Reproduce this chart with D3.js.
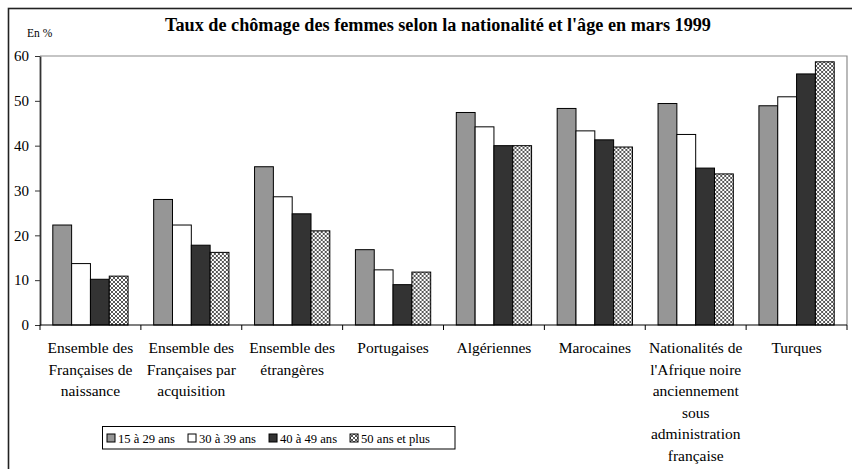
<!DOCTYPE html>
<html>
<head>
<meta charset="utf-8">
<script src="https://cdn.jsdelivr.net/npm/d3@7"></script>
<style>
  body { margin: 0; background: #fff; }
  svg { display: block; }
  svg text { font-family: "Liberation Serif", "Times New Roman", serif; }
</style>
</head>
<body>
<svg id="chart" width="852" height="469"></svg>
<script>
// Unemployment rate of women by nationality and age group, March 1999 (%)
const categories = [
  ["Ensemble des", "Françaises de", "naissance"],
  ["Ensemble des", "Françaises par", "acquisition"],
  ["Ensemble des", "étrangères"],
  ["Portugaises"],
  ["Algériennes"],
  ["Marocaines"],
  ["Nationalités de", "l'Afrique noire", "anciennement", "sous", "administration", "française"],
  ["Turques"]
];
const seriesNames = ["15 à 29 ans", "30 à 39 ans", "40 à 49 ans", "50 ans et plus"];
const age15to29 = [22.3, 28.0, 35.3, 16.8, 47.4, 48.3, 49.4, 48.9];
const age30to39 = [13.7, 22.3, 28.6, 12.3, 44.2, 43.3, 42.5, 50.9];
const age40to49 = [10.2, 17.8, 24.8, 9.0, 40.0, 41.3, 35.0, 56.0];
const age50plus = [10.9, 16.2, 21.0, 11.8, 40.0, 39.7, 33.7, 58.7];
const yTicks = [0, 10, 20, 30, 40, 50, 60];

const seriesValues = [age15to29, age30to39, age40to49, age50plus];
const FONT = "Liberation Serif, Times New Roman, serif";
const svg = d3.select("#chart");

// hatch pattern for the oldest age group
const defs = svg.append("defs");
const pat = defs.append("pattern")
  .attr("id", "hatch").attr("patternUnits", "userSpaceOnUse")
  .attr("width", 4).attr("height", 4);
pat.append("rect").attr("width", 4).attr("height", 4).attr("fill", "#fff");
pat.append("path").attr("d", "M0,0L4,4M4,0L0,4")
  .attr("stroke", "#444").attr("stroke-width", 0.9);

const fills = ["#969696", "#ffffff", "#333333", "url(#hatch)"];

// outer frame
svg.append("rect").attr("x", 8.5).attr("y", 8.5).attr("width", 860).attr("height", 480)
  .attr("fill", "none").attr("stroke", "#222").attr("stroke-width", 1.6);

const plot = { left: 40, right: 847, top: 56, bottom: 325 };

const x0 = d3.scaleBand().domain(d3.range(categories.length))
  .range([plot.left, plot.right]).paddingInner(0).paddingOuter(0);
const x1 = d3.scaleBand().domain(d3.range(seriesNames.length))
  .range([0, x0.bandwidth()]).paddingInner(0).paddingOuter(0.68);
const y = d3.scaleLinear().domain([0, 60]).range([plot.bottom, plot.top]);

// plot area border (top and right)
svg.append("path")
  .attr("d", `M${plot.left},${plot.top}H${plot.right}V${plot.bottom}`)
  .attr("fill", "none").attr("stroke", "#8c8c8c").attr("stroke-width", 1.2);

// bars
const groups = svg.append("g").selectAll("g")
  .data(categories.map((c, i) => i))
  .join("g")
  .attr("transform", i => `translate(${x0(i)},0)`);
groups.selectAll("rect")
  .data(i => seriesValues.map((s, k) => ({ k, v: s[i] })))
  .join("rect")
  .attr("x", d => x1(d.k))
  .attr("y", d => y(d.v))
  .attr("width", x1.bandwidth())
  .attr("height", d => y(0) - y(d.v))
  .attr("fill", d => fills[d.k])
  .attr("stroke", "#000").attr("stroke-width", 1);

// y axis
const yAxis = svg.append("g").attr("transform", `translate(${plot.left},0)`)
  .attr("font-family", FONT)
  .call(d3.axisLeft(y).tickValues(yTicks).tickSize(5).tickPadding(6).tickSizeOuter(0));
yAxis.attr("font-family", FONT);
yAxis.select(".domain").attr("stroke", "#333").attr("stroke-width", 1.8);
yAxis.selectAll(".tick line").attr("stroke", "#333").attr("stroke-width", 1);
yAxis.selectAll(".tick text").attr("font-size", 15).attr("fill", "#000")
  .attr("font-family", FONT);

// x axis line with ticks at category boundaries
const xAxisG = svg.append("g");
xAxisG.append("line").attr("x1", plot.left).attr("x2", plot.right)
  .attr("y1", plot.bottom).attr("y2", plot.bottom)
  .attr("stroke", "#000").attr("stroke-width", 1.2);
const boundaries = d3.range(categories.length + 1).map(i => i < categories.length ? x0(i) : x0(i - 1) + x0.bandwidth());
xAxisG.selectAll("line.tk").data(boundaries).join("line").attr("class", "tk")
  .attr("x1", d => d).attr("x2", d => d)
  .attr("y1", plot.bottom).attr("y2", plot.bottom + 5)
  .attr("stroke", "#000").attr("stroke-width", 1);

// category labels
const lab = svg.append("g").attr("font-family", FONT).selectAll("text")
  .data(categories.map((c, i) => i))
  .join("text")
  .attr("x", i => x0(i) + x0.bandwidth() / 2)
  .attr("y", 353)
  .attr("text-anchor", "middle")
  .attr("font-family", FONT)
  .attr("font-size", 15.5)
  .attr("fill", "#000");
lab.selectAll("tspan").data(i => categories[i]).join("tspan")
  .attr("x", function () { return d3.select(this.parentNode).attr("x"); })
  .attr("dy", (d, j) => j === 0 ? 0 : 21.6)
  .text(d => d);

// title and unit
svg.append("text").attr("x", 438).attr("y", 31).attr("text-anchor", "middle")
  .attr("font-family", FONT)
  .attr("font-size", 18.2).attr("font-weight", "bold")
  .text("Taux de chômage des femmes selon la nationalité et l'âge en mars 1999");
svg.append("text").attr("x", 27).attr("y", 37).attr("font-size", 11.5)
  .attr("font-family", FONT)
  .text("En %");

// legend
const legend = svg.append("g").attr("font-family", FONT);
legend.append("rect").attr("x", 102.5).attr("y", 426.5)
  .attr("width", 352.5).attr("height", 22.5)
  .attr("fill", "#fff").attr("stroke", "#000").attr("stroke-width", 1);
let lx = 107;
seriesNames.forEach((name, k) => {
  legend.append("rect").attr("x", lx).attr("y", 434).attr("width", 8).attr("height", 8)
    .attr("fill", fills[k]).attr("stroke", "#000").attr("stroke-width", 1);
  const t = legend.append("text").attr("x", lx + 11).attr("y", 442.5)
    .attr("font-family", FONT)
    .attr("font-size", 12.6).text(name);
  lx += 11 + t.node().getComputedTextLength() + 13;
});
</script>
</body>
</html>
